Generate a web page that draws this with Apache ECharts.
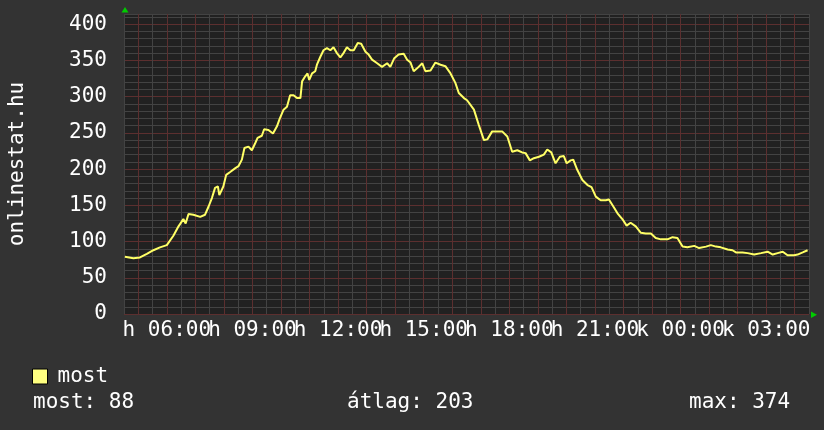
<!DOCTYPE html>
<html>
<head>
<meta charset="utf-8">
<script src="https://cdn.jsdelivr.net/npm/echarts@6/dist/echarts.min.js"></script>
<style>
html,body{margin:0;padding:0;background:#333333;}
#chart{width:824px;height:430px;}
</style>
</head>
<body>
<div id="chart"></div>
<script>
// time of day in hours (values >= 24 are the next day)
const hours = [4.53,4.83,5.06,5.30,5.53,5.76,6.00,6.23,6.41,6.58,6.66,6.76,6.93,7.17,7.34,7.46,7.58,7.69,7.79,7.84,7.98,8.08,8.22,8.39,8.51,8.63,8.72,8.86,8.98,9.10,9.18,9.33,9.41,9.56,9.72,9.86,9.95,10.09,10.21,10.32,10.44,10.56,10.68,10.74,10.85,10.93,10.99,11.09,11.20,11.26,11.38,11.49,11.61,11.73,11.84,11.96,12.08,12.19,12.31,12.43,12.55,12.69,12.81,12.96,13.07,13.19,13.37,13.54,13.72,13.83,13.97,14.12,14.30,14.42,14.54,14.65,14.77,14.95,15.06,15.24,15.41,15.59,15.76,15.94,16.11,16.23,16.41,16.52,16.76,16.93,17.11,17.23,17.40,17.58,17.75,17.93,18.10,18.28,18.45,18.57,18.72,18.86,19.04,19.21,19.33,19.47,19.62,19.77,19.91,20.01,20.15,20.24,20.38,20.56,20.74,20.88,21.03,21.20,21.38,21.49,21.65,21.79,21.96,22.11,22.25,22.43,22.61,22.78,22.96,23.13,23.31,23.54,23.72,23.89,24.07,24.24,24.48,24.65,24.89,25.06,25.24,25.41,25.65,25.82,25.94,26.17,26.35,26.58,26.82,27.05,27.23,27.40,27.58,27.75,27.98,28.10,28.28,28.45];
const mostValues = [79,77,78,83,88,92,95,108,121,131,125,138,137,134,137,148,160,174,176,164,176,192,196,201,204,213,229,231,226,236,243,246,255,254,249,259,269,282,286,302,302,298,298,321,328,332,323,332,335,344,355,364,367,364,368,360,354,360,368,364,364,374,373,362,358,351,346,341,346,341,353,358,359,351,347,335,339,346,335,336,347,344,342,332,319,305,298,295,282,261,240,241,252,252,252,245,224,226,223,222,212,215,217,220,227,223,208,217,218,208,212,213,199,185,178,175,162,157,157,158,148,139,131,122,126,121,112,111,111,105,103,103,106,105,93,92,94,91,93,95,93,92,89,88,85,85,84,82,84,86,82,84,86,81,81,82,85,88];
const seriesName = 'most';
const xTickHours = [6,9,12,15,18,21,24,27];
const xTickLabels = ['h 06:00','h 09:00','h 12:00','h 15:00','h 18:00','h 21:00','k 00:00','k 03:00'];
const yTickValues = [0,50,100,150,200,250,300,350,400];
const statLabels = ['most','átlag','max'];
const statValues = [88,203,374];
const axisTitle = 'onlinestat.hu';

const FONT = '"DejaVu Sans Mono", monospace';
const RED = '#5c2f2f';
const GREY = '#434343';

const chart = echarts.init(document.getElementById('chart'), null, {renderer:'canvas'});
const statX = [33, 347, 689];

chart.setOption({
  backgroundColor: '#333333',
  animation: false,
  grid: {left:124, right:15, top:14, bottom:116, show:true, backgroundColor:'#212121', borderWidth:0,
         containLabel:false, outerBoundsMode:'none'},
  legend: {
    data:[seriesName], left:27, top:361, icon:'rect', itemWidth:15, itemHeight:15,
    itemStyle:{borderColor:'#000', borderWidth:1, color:'#ffff80'},
    textStyle:{color:'#ffffff', fontFamily:FONT, fontSize:21, padding:[0,0,0,5]}
  },
  xAxis: {
    type:'value', min:4.5, max:28.5, interval:0.5,
    axisLine:{show:false},
    axisTick:{show:false},
    splitLine:{show:true, lineStyle:{color:[GREY, RED], type:'solid', width:1}},
    axisLabel:{
      color:'#ffffff', fontFamily:FONT, fontSize:21, margin:6,
      showMinLabel:false, showMaxLabel:false,
      formatter: v => { const i = xTickHours.findIndex(h => Math.abs(h - v) < 1e-6); return i >= 0 ? xTickLabels[i] : ''; }
    }
  },
  yAxis: {
    type:'value', min:0, max:414, interval:10,
    name: axisTitle, nameLocation:'middle', nameGap:96, nameRotate:90,
    nameTextStyle:{color:'#ffffff', fontFamily:FONT, fontSize:21},
    axisLine:{show:false}, axisTick:{show:false},
    splitLine:{show:true, lineStyle:{color:[RED, GREY, GREY, GREY, GREY], type:'solid', width:1}},
    axisLabel:{
      color:'#ffffff', fontFamily:FONT, fontSize:21, margin:17, showMaxLabel:false,
      formatter: v => yTickValues.indexOf(v) >= 0 ? String(v) : ''
    }
  },
  graphic: [
    {type:'polygon', shape:{points:[[121.5,12.5],[128.5,12.5],[125,7]]}, style:{fill:'#00cc00'}},
    {type:'polygon', shape:{points:[[811,311.5],[811,318],[817,314.7]]}, style:{fill:'#00cc00'}}
  ].concat(statLabels.map((l,i) => ({
    type:'text', left:statX[i], top:392,
    style:{text: l + ': ' + statValues[i], fill:'#ffffff', font:'21px ' + FONT}
  }))),
  series: [{
    name: seriesName, type:'line', showSymbol:false,
    lineStyle:{color:'#ffff66', width:2},
    itemStyle:{color:'#ffff80'},
    data: hours.map((h,i) => [h, mostValues[i]])
  }]
});
</script>
</body>
</html>
